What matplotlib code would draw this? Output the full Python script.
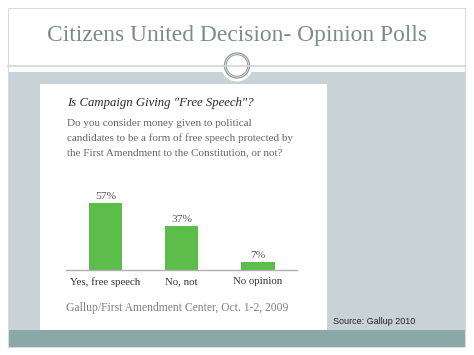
import matplotlib
matplotlib.use("Agg")
import matplotlib.pyplot as plt
from matplotlib.patches import Rectangle, Circle

# Data
categories = ["Yes, free speech", "No, not", "No opinion"]
percents = [57, 37, 7]
slide_title = "Citizens United Decision- Opinion Polls"
chart_title = 'Is Campaign Giving "Free Speech"?'
question = ["Do you consider money given to political",
            "candidates to be a form of free speech protected by",
            "the First Amendment to the Constitution, or not?"]
poll_note = "Gallup/First Amendment Center, Oct. 1-2, 2009"
source_note = "Source: Gallup 2010"

W, H = 474, 355
fig = plt.figure(figsize=(W / 100, H / 100), dpi=100)
fig.patch.set_facecolor("white")

# background drawn in pixel coordinates
bg = fig.add_axes([0, 0, 1, 1])
bg.set_xlim(0, W)
bg.set_ylim(H, 0)
bg.axis("off")

bg.add_patch(Rectangle((8, 72), 457, 258, facecolor="#c8d2d7", edgecolor="none"))
bg.add_patch(Rectangle((8, 330), 457, 16.5, facecolor="#8aa8a6", edgecolor="none"))
bg.add_patch(Rectangle((8, 7.5), 457, 339, facecolor="none", edgecolor="#dadada", lw=0.8))
bg.plot([8, 465], [66, 66], color="#d2d6d6", lw=1.2)
bg.add_patch(Rectangle((40, 84), 287, 246, facecolor="white", edgecolor="none"))

bg.add_patch(Circle((237, 65.5), 16, facecolor="white", edgecolor="none"))
bg.add_patch(Circle((237, 65.5), 12.5, facecolor="white", edgecolor="#9aa0a0", lw=1.0))
bg.add_patch(Circle((237, 65.5), 10.8, facecolor="none", edgecolor="#9aa0a0", lw=0.8))

serif = ["Liberation Serif", "DejaVu Serif"]
bg.text(237, 36, slide_title, ha="center", va="center", fontsize=16.9,
        family=serif, color="#7b8c8a")
bg.text(67, 103, chart_title, ha="left", va="center", fontsize=9.2,
        family=serif, style="italic", color="#2a2a2a")
for i, line in enumerate(question):
    bg.text(67, 123 + 15 * i, line, ha="left", va="center", fontsize=8.05,
            family=serif, color="#666666")
bg.text(66, 308, poll_note, ha="left", va="center", fontsize=8.4,
        family=serif, color="#808080")
bg.text(333, 322, source_note, ha="left", va="center", fontsize=6.5,
        family=["Liberation Sans", "DejaVu Sans"], color="#222222")

# bar chart
px_per_pct = 1.18
ymax = 70
ax = fig.add_axes([66 / W, (H - 270) / H, 231 / W, ymax * px_per_pct / H])
ax.patch.set_alpha(0)
x = list(range(len(categories)))
bars = ax.bar(x, percents, width=0.437, color="#5cbd4b")
for b, v in zip(bars, percents):
    ax.text(b.get_x() + b.get_width() / 2, v + 1.8, f"{v}%", ha="center",
            va="bottom", fontsize=8.2, family=serif, color="#555555")
ax.set_xlim(-0.515, 2.51)
ax.set_ylim(0, ymax)
ax.set_xticks(x)
ax.set_xticklabels(categories, fontsize=7.8, family=serif, color="#333333")
ax.tick_params(axis="x", length=0, pad=5)
ax.set_yticks([])
for s in ["top", "left", "right"]:
    ax.spines[s].set_visible(False)
ax.spines["bottom"].set_color("#b0b0b0")
ax.spines["bottom"].set_linewidth(1)

fig.savefig("out.png", dpi=100)
